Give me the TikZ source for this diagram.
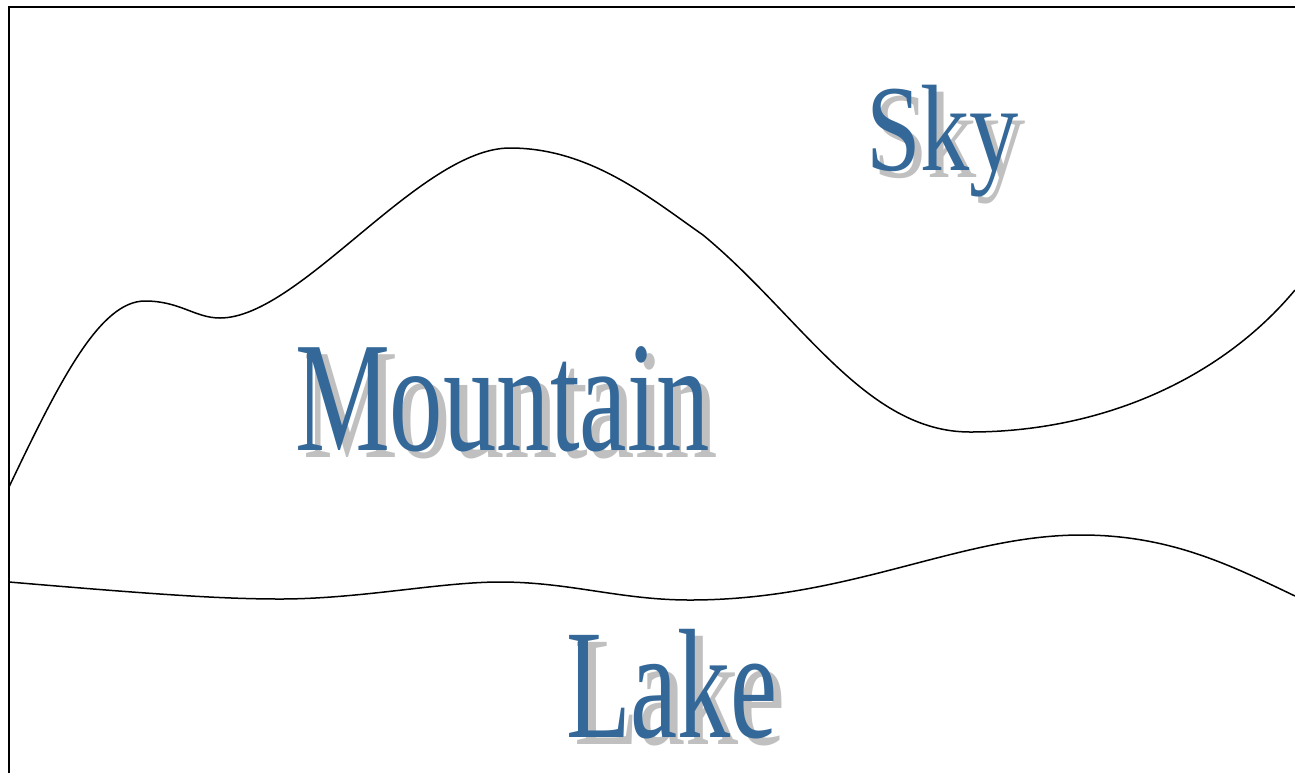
\documentclass[tikz,border=0pt]{standalone}
\usepackage{fontspec}
\setmainfont{Liberation Serif}
\definecolor{txtblue}{RGB}{52,104,153}
\definecolor{shadowgray}{RGB}{192,192,192}
\tikzset{
  curve/.style={line width=1.5pt, black},
  frame/.style={line width=2pt, black},
  lbl/.style={anchor=base west, inner sep=0pt, outer sep=0pt},
}
\begin{document}
\begin{tikzpicture}[x=1pt,y=-1pt]
\useasboundingbox (0,0) rectangle (1295,772);
\clip (0,0) rectangle (1295,772);
\draw[frame] (9,7) rectangle (1310,790);
% mountain ridge
\draw[curve] (9,487) .. controls (60,380) and (100,301) .. (145,301)
  .. controls (180,301) and (195,318) .. (220,318)
  .. controls (300,318) and (420,148) .. (510,148)
  .. controls (590,148) and (650,198) .. (703,235)
  .. controls (800,315) and (865,432) .. (970,432)
  .. controls (1100,432) and (1220,380) .. (1295,290);
% lake shore
\draw[curve] (9,582) .. controls (150,594) and (220,599) .. (280,599)
  .. controls (360,599) and (440,582) .. (500,582)
  .. controls (570,582) and (620,600) .. (690,600)
  .. controls (850,600) and (960,535) .. (1081,535)
  .. controls (1170,535) and (1230,565) .. (1295,596);
% labels
\node[lbl, text=shadowgray] (skyS) at (873,177) {\fontsize{123}{123}\selectfont\scalebox{0.8}[1]{Sky}};
\node[lbl, text=txtblue] (sky) at (866,170) {\fontsize{123}{123}\selectfont\scalebox{0.8}[1]{Sky}};
\node[lbl, text=shadowgray] (mtS) at (303,457) {\fontsize{157}{157}\selectfont\scalebox{0.68}[1]{Mountain}};
\node[lbl, text=txtblue] (mt) at (295,450) {\fontsize{157}{157}\selectfont\scalebox{0.68}[1]{Mountain}};
\node[lbl, text=shadowgray] (lkS) at (574,744) {\fontsize{156}{156}\selectfont\scalebox{0.68}[1]{Lake}};
\node[lbl, text=txtblue] (lk) at (566,737) {\fontsize{156}{156}\selectfont\scalebox{0.68}[1]{Lake}};
\end{tikzpicture}
\end{document}
